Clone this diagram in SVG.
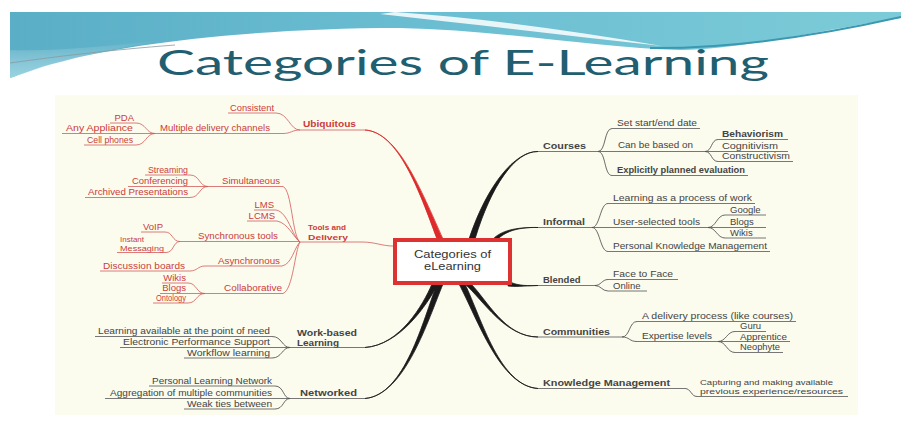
<svg xmlns="http://www.w3.org/2000/svg" width="901" height="439" viewBox="0 0 901 439">
<defs>
<linearGradient id="teal" x1="0" y1="0" x2="1" y2="0">
<stop offset="0" stop-color="#5aaec6"/>
<stop offset="0.5" stop-color="#6cbfd2"/>
<stop offset="1" stop-color="#7ccbd8"/>
</linearGradient>
<linearGradient id="tealv" x1="0" y1="0" x2="0" y2="1">
<stop offset="0" stop-color="#ffffff" stop-opacity="0"/>
<stop offset="1" stop-color="#bfeaf0" stop-opacity="0.6"/>
</linearGradient>
</defs>
<style>
text{font-family:"Liberation Sans",Arial,sans-serif;font-size:9.5px}
.sm{font-size:8px}
.r{fill:#cc3b3b}
.k{fill:#444}
.b{font-weight:bold}
.e{text-anchor:end}
.ur{stroke:#d65a5a;stroke-width:0.8;fill:none}
.uk{stroke:#555;stroke-width:0.8;fill:none}
.cr{stroke:#d65a5a;stroke-width:0.8;fill:none}
.ck{stroke:#444;stroke-width:0.8;fill:none}
.tr{fill:#dd2a2a;stroke:#dd2a2a;stroke-width:0.8}
.tk{fill:#1a1a1a;stroke:#1a1a1a;stroke-width:0.8}
.title{font-family:Lato,"Open Sans",sans-serif;font-size:35px;fill:#215e70}
.ctr{font-size:10px;fill:#333;text-anchor:middle}
</style>
<rect width="901" height="439" fill="#ffffff"/>
<g id="banner">
<path d="M10,12 H901 V18 C820,30 740,50 680,50 C600,48 500,30 400,28 C250,28 120,45 60,62 C35,68 20,75 10,78 Z" fill="url(#teal)"/>
<path d="M10,50 C60,52 120,44 170,40 C120,46 60,60 10,78 Z" fill="url(#tealv)"/>
<path d="M395,12 C480,18 570,30 662,46 C570,36 480,25 380,14 Z" fill="#ffffff" opacity="0.85"/>
<path d="M650,48 C740,49 830,33 901,17" fill="none" stroke="#3a98b0" stroke-width="2"/>
<path d="M10,63 C60,56 110,50 175,45" fill="none" stroke="#8a9aa0" stroke-width="1" opacity="0.8"/>
<text class="title" x="157" y="75" textLength="612" lengthAdjust="spacingAndGlyphs">Categories of E-Learning</text>
</g>
<rect id="panel" x="55" y="95" width="803" height="320" fill="#fbfbee"/>

<g id="connectors">
<path class="tr" d="M365,130 C398,132 419,190 437,239 L443,239 C421,190 398,132 365,130 Z"/>
<path class="tk" d="M538,151.5 C515,151 487,185 469,239 L475,239 C491,186 515,151 538,151.5 Z"/>
<path class="tk" d="M538,227.5 C515,227 501,231 493,239 L498,239 C504,233 515,227 538,227.5 Z"/>
<path class="tk" d="M538,285.5 C522,286 516,285 508,281 L508,286 C516,287 522,286 538,285.5 Z"/>
<path class="tk" d="M538,337 C505,337 487,300 471,284 L465,284 C483,300 505,337 538,337 Z"/>
<path class="tk" d="M538,388.5 C500,386 482,320 465,284 L459,284 C478,320 500,386 538,388.5 Z"/>
<path class="tk" d="M365,347.5 C400,345 423,305 432,284 L438,284 C427,305 400,345 365,347.5 Z"/>
<path class="tk" d="M365,398.5 C405,395 423,320 437,284 L443,284 C428,320 405,395 365,398.5 Z"/>
<path class="cr" d="M362,242 C375,242 382,246 393,246"/>
<path class="cr" d="M276,113 C288,113 290,130 300,130"/>
<path class="cr" d="M283,133.5 C291,133.5 292,130 300,130"/>
<path class="cr" d="M136,123 C146,123 146,133.5 155,133.5"/>
<path class="cr" d="M136,145 C146,145 146,133.5 155,133.5"/>
<path class="cr" d="M190,175 C200,175 199,186.5 208,186.5"/>
<path class="cr" d="M190,197.5 C200,197.5 199,186.5 208,186.5"/>
<path class="cr" d="M283,186.5 C292,190 292,236 300,242"/>
<path class="cr" d="M276,210 C288,212 292,236 300,242"/>
<path class="cr" d="M277,221 C288,223 294,238 300,242"/>
<path class="cr" d="M165,232 C173,232 172,241.5 180,241.5"/>
<path class="cr" d="M166,252.5 C174,252.5 173,241.5 180,241.5"/>
<path class="cr" d="M282,266 C292,264 294,248 300,242"/>
<path class="cr" d="M190,271 C197,271 198,266 205,266"/>
<path class="cr" d="M188,283 C197,283 196,293.5 205,293.5"/>
<path class="cr" d="M188,303 C197,303 196,293.5 205,293.5"/>
<path class="cr" d="M283,293.5 C293,290 295,250 300,242"/>
<path class="ck" d="M272,336.5 C282,336.5 282,347.5 290,347.5"/>
<path class="ck" d="M272,358 C282,358 282,347.5 290,347.5"/>
<path class="ck" d="M275,386 C284,386 283,398.5 290,398.5"/>
<path class="ck" d="M275,409 C284,409 283,398.5 290,398.5"/>
<path class="ck" d="M598,151.5 C606,151.5 604,128.5 612,128.5"/>
<path class="ck" d="M598,151.5 C606,151.5 604,175.5 612,175.5"/>
<path class="ck" d="M705,151.5 C712,151.5 711,139.5 718,139.5"/>
<path class="ck" d="M705,151.5 C712,151.5 711,161.5 718,161.5"/>
<path class="ck" d="M592,227.5 C600,227.5 600,203.5 608,203.5"/>
<path class="ck" d="M592,227.5 C600,227.5 600,251.5 608,251.5"/>
<path class="ck" d="M708,227.5 C716,227.5 717,215 725,215"/>
<path class="ck" d="M708,227.5 C716,227.5 717,238 725,238"/>
<path class="ck" d="M595,285.5 C601,285.5 602,279.5 608,279.5"/>
<path class="ck" d="M595,285.5 C601,285.5 602,291 608,291"/>
<path class="ck" d="M622,337 C630,337 629,321.5 637,321.5"/>
<path class="ck" d="M622,337 C630,337 629,341.5 637,341.5"/>
<path class="ck" d="M718,341.5 C726,341.5 727,331.5 735,331.5"/>
<path class="ck" d="M718,341.5 C726,341.5 727,352.5 735,352.5"/>
<path class="ck" d="M685,388.5 C691,388.5 691,396.5 697,396.5"/>
</g>

<g id="center">
<rect x="395" y="240" width="115" height="43" fill="#ffffff" stroke="#dc3232" stroke-width="4"/>
<text class="ctr" x="452.5" y="258" textLength="77" lengthAdjust="spacingAndGlyphs">Categories of</text>
<text class="ctr" x="452.5" y="269.5" textLength="57" lengthAdjust="spacingAndGlyphs">eLearning</text>
</g>

<g id="n-consistent"><text class="r" x="230" y="111" textLength="44" lengthAdjust="spacingAndGlyphs">Consistent</text><path class="ur" d="M228,113H276"/></g>
<g id="n-ubiquitous"><text class="r b" x="303" y="127" textLength="53" lengthAdjust="spacingAndGlyphs">Ubiquitous</text><path class="ur" d="M300,130H365"/></g>
<g id="n-multiple"><text class="r" x="160" y="131" textLength="110" lengthAdjust="spacingAndGlyphs">Multiple delivery channels</text><path class="ur" d="M155,133.5H283"/></g>
<g id="n-pda"><text class="r e" x="134" y="121">PDA</text><path class="ur" d="M110,123H136"/></g>
<g id="n-any"><text class="r" x="66" y="131" textLength="67" lengthAdjust="spacingAndGlyphs">Any Appliance</text><path class="ur" d="M62,133.5H155"/></g>
<g id="n-cell"><text class="r" x="87" y="143" textLength="46" lengthAdjust="spacingAndGlyphs">Cell phones</text><path class="ur" d="M84,145H136"/></g>
<g id="n-streaming"><text class="r" x="148" y="173" textLength="40" lengthAdjust="spacingAndGlyphs">Streaming</text><path class="ur" d="M145,175H190"/></g>
<g id="n-conferencing"><text class="r" x="132" y="184" textLength="56" lengthAdjust="spacingAndGlyphs">Conferencing</text><path class="ur" d="M128,186.5H208"/></g>
<g id="n-archived"><text class="r" x="88" y="195" textLength="100" lengthAdjust="spacingAndGlyphs">Archived Presentations</text><path class="ur" d="M85,197.5H190"/></g>
<g id="n-simultaneous"><text class="r" x="222" y="184" textLength="58" lengthAdjust="spacingAndGlyphs">Simultaneous</text><path class="ur" d="M208,186.5H283"/></g>
<g id="n-lms"><text class="r e" x="274" y="208">LMS</text><path class="ur" d="M254,210H276"/></g>
<g id="n-lcms"><text class="r e" x="275" y="219">LCMS</text><path class="ur" d="M247,221H277"/></g>
<g id="n-tools"><text class="r b sm" x="308" y="230" textLength="38" lengthAdjust="spacingAndGlyphs">Tools and</text><text class="r b sm" x="308" y="239.5" textLength="40" lengthAdjust="spacingAndGlyphs">Delivery</text><path class="ur" d="M300,242H362"/></g>
<g id="n-voip"><text class="r e" x="163" y="230">VoIP</text><path class="ur" d="M141,232H165"/></g>
<g id="n-instant"><text class="r sm" x="120" y="241.5">Instant</text><text class="r sm" x="120" y="250.5" textLength="44" lengthAdjust="spacingAndGlyphs">Messaging</text><path class="ur" d="M117,252.5H166"/></g>
<g id="n-synchronous"><text class="r" x="198" y="239" textLength="80" lengthAdjust="spacingAndGlyphs">Synchronous tools</text><path class="ur" d="M180,241.5H300"/></g>
<g id="n-asynchronous"><text class="r" x="218" y="264" textLength="62" lengthAdjust="spacingAndGlyphs">Asynchronous</text><path class="ur" d="M205,266H282"/></g>
<g id="n-discussion"><text class="r" x="103" y="269" textLength="82" lengthAdjust="spacingAndGlyphs">Discussion boards</text><path class="ur" d="M100,271H190"/></g>
<g id="n-wikis"><text class="r e" x="186" y="281">Wikis</text><path class="ur" d="M162,283H188"/></g>
<g id="n-blogs"><text class="r e" x="186" y="291">Blogs</text><path class="ur" d="M160,293.5H205"/></g>
<g id="n-ontology"><text class="r e" x="186" y="301" textLength="30" lengthAdjust="spacingAndGlyphs">Ontology</text><path class="ur" d="M153,303H188"/></g>
<g id="n-collaborative"><text class="r" x="224" y="291" textLength="58" lengthAdjust="spacingAndGlyphs">Collaborative</text><path class="ur" d="M205,293.5H283"/></g>

<g id="n-workbased"><text class="k b" x="297" y="336" textLength="60" lengthAdjust="spacingAndGlyphs">Work-based</text><text class="k b" x="297" y="345.5" textLength="42" lengthAdjust="spacingAndGlyphs">Learning</text><path class="uk" d="M290,347.5H365"/></g>
<g id="n-wb1"><text class="k" x="98" y="334" textLength="172" lengthAdjust="spacingAndGlyphs">Learning available at the point of need</text><path class="uk" d="M95,336.5H272"/></g>
<g id="n-wb2"><text class="k" x="123" y="345" textLength="147" lengthAdjust="spacingAndGlyphs">Electronic Performance Support</text><path class="uk" d="M120,347.5H290"/></g>
<g id="n-wb3"><text class="k" x="187" y="355.5" textLength="83" lengthAdjust="spacingAndGlyphs">Workflow learning</text><path class="uk" d="M184,358H272"/></g>
<g id="n-networked"><text class="k b" x="300" y="396" textLength="57" lengthAdjust="spacingAndGlyphs">Networked</text><path class="uk" d="M290,398.5H365"/></g>
<g id="n-nw1"><text class="k" x="152" y="384" textLength="120" lengthAdjust="spacingAndGlyphs">Personal Learning Network</text><path class="uk" d="M149,386H275"/></g>
<g id="n-nw2"><text class="k" x="110" y="396" textLength="162" lengthAdjust="spacingAndGlyphs">Aggregation of multiple communities</text><path class="uk" d="M105,398.5H290"/></g>
<g id="n-nw3"><text class="k" x="187" y="406.5" textLength="85" lengthAdjust="spacingAndGlyphs">Weak ties between</text><path class="uk" d="M184,409H275"/></g>

<g id="n-courses"><text class="k b" x="543" y="149" textLength="43" lengthAdjust="spacingAndGlyphs">Courses</text><path class="uk" d="M538,151.5H598"/></g>
<g id="n-setdate"><text class="k" x="617" y="126" textLength="80" lengthAdjust="spacingAndGlyphs">Set start/end date</text><path class="uk" d="M612,128.5H700"/></g>
<g id="n-canbe"><text class="k" x="618" y="148" textLength="75" lengthAdjust="spacingAndGlyphs">Can be based on</text><path class="uk" d="M598,151.5H705"/></g>
<g id="n-behav"><text class="k b" x="722" y="137" textLength="61" lengthAdjust="spacingAndGlyphs">Behaviorism</text><path class="uk" d="M718,139.5H788"/></g>
<g id="n-cognit"><text class="k" x="722" y="148.5" textLength="56" lengthAdjust="spacingAndGlyphs">Cognitivism</text><path class="uk" d="M705,151.5H788"/></g>
<g id="n-constr"><text class="k" x="722" y="159" textLength="68" lengthAdjust="spacingAndGlyphs">Constructivism</text><path class="uk" d="M718,161.5H793"/></g>
<g id="n-explicit"><text class="k b" x="617" y="173" textLength="128" lengthAdjust="spacingAndGlyphs">Explicitly planned evaluation</text><path class="uk" d="M612,175.5H748"/></g>

<g id="n-informal"><text class="k b" x="543" y="225" textLength="42" lengthAdjust="spacingAndGlyphs">Informal</text><path class="uk" d="M538,227.5H592"/></g>
<g id="n-lapw"><text class="k" x="613" y="201" textLength="139" lengthAdjust="spacingAndGlyphs">Learning as a process of work</text><path class="uk" d="M608,203.5H755"/></g>
<g id="n-ust"><text class="k" x="613" y="224.5" textLength="87" lengthAdjust="spacingAndGlyphs">User-selected tools</text><path class="uk" d="M592,227.5H708"/></g>
<g id="n-google"><text class="k" x="730" y="212.5">Google</text><path class="uk" d="M725,215H766"/></g>
<g id="n-blogs2"><text class="k" x="730" y="224.5">Blogs</text><path class="uk" d="M708,227.5H766"/></g>
<g id="n-wikis2"><text class="k" x="730" y="235.5">Wikis</text><path class="uk" d="M725,238H766"/></g>
<g id="n-pkm"><text class="k" x="613" y="249" textLength="154" lengthAdjust="spacingAndGlyphs">Personal Knowledge Management</text><path class="uk" d="M608,251.5H770"/></g>

<g id="n-blended"><text class="k b" x="543" y="283">Blended</text><path class="uk" d="M538,285.5H595"/></g>
<g id="n-f2f"><text class="k" x="613" y="277" textLength="60" lengthAdjust="spacingAndGlyphs">Face to Face</text><path class="uk" d="M608,279.5H678"/></g>
<g id="n-online"><text class="k" x="613" y="288.5">Online</text><path class="uk" d="M608,291H647"/></g>

<g id="n-communities"><text class="k b" x="543" y="334.5" textLength="67" lengthAdjust="spacingAndGlyphs">Communities</text><path class="uk" d="M538,337H622"/></g>
<g id="n-dp"><text class="k" x="642" y="319" textLength="151" lengthAdjust="spacingAndGlyphs">A delivery process (like courses)</text><path class="uk" d="M637,321.5H796"/></g>
<g id="n-el"><text class="k" x="642" y="339" textLength="70" lengthAdjust="spacingAndGlyphs">Expertise levels</text><path class="uk" d="M637,341.5H718"/></g>
<g id="n-guru"><text class="k" x="740" y="329">Guru</text><path class="uk" d="M735,331.5H766"/></g>
<g id="n-appr"><text class="k" x="740" y="339.5" textLength="47" lengthAdjust="spacingAndGlyphs">Apprentice</text><path class="uk" d="M718,341.5H790"/></g>
<g id="n-neo"><text class="k" x="740" y="350" textLength="40" lengthAdjust="spacingAndGlyphs">Neophyte</text><path class="uk" d="M735,352.5H783"/></g>

<g id="n-km"><text class="k b" x="543" y="386" textLength="127" lengthAdjust="spacingAndGlyphs">Knowledge Management</text><path class="uk" d="M538,388.5H685"/></g>
<g id="n-cap"><text class="k sm" x="700" y="384.5" textLength="133" lengthAdjust="spacingAndGlyphs">Capturing and making available</text><text class="k sm" x="700" y="394" textLength="143" lengthAdjust="spacingAndGlyphs">previous experience/resources</text><path class="uk" d="M697,396.5H848"/></g>
</svg>
